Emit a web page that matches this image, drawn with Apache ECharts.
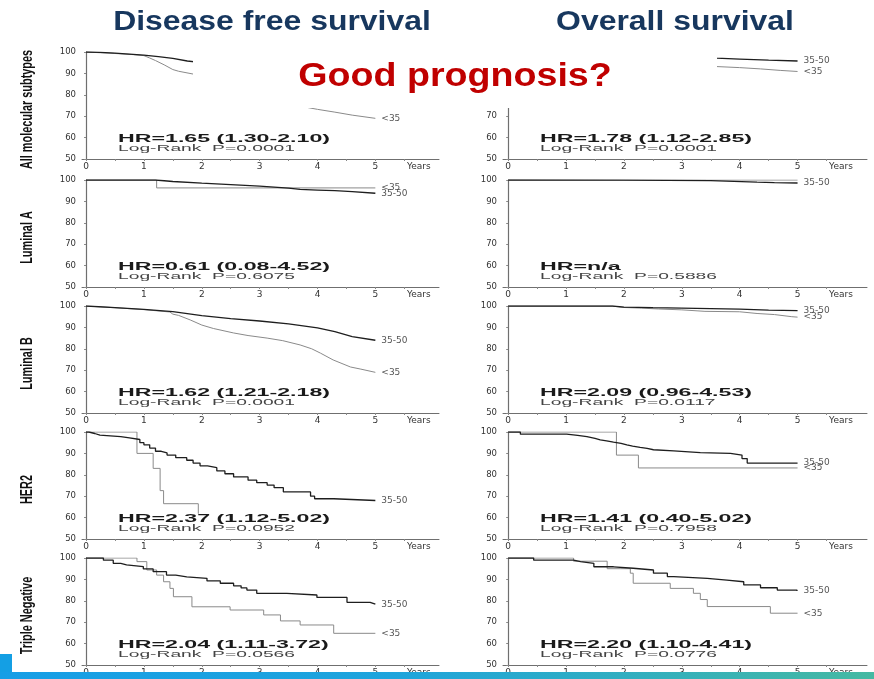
<!DOCTYPE html>
<html>
<head>
<meta charset="utf-8">
<script src="https://cdn.jsdelivr.net/npm/echarts@6/dist/echarts.min.js"></script>
<style>
  html, body { margin: 0; padding: 0; background: #fff; }
  #main { width: 874px; height: 679px; }
</style>
</head>
<body>
<div id="main"></div>
<script>
// ---------- labels ----------
const columnTitles = ['Disease free survival', 'Overall survival'];
const rowNames = ['All molecular subtypes', 'Luminal A', 'Luminal B', 'HER2', 'Triple Negative'];
const ageGroups = ['35-50', '<35'];
const yearTicks = [0, 1, 2, 3, 4, 5];
const halfYearTicks = [0, 0.5, 1, 1.5, 2, 2.5, 3, 3.5, 4, 4.5, 5, 5.5];
const headline = 'Good prognosis?';

const hrDfs = ['HR=1.65 (1.30-2.10)', 'HR=0.61 (0.08-4.52)', 'HR=1.62 (1.21-2.18)', 'HR=2.37 (1.12-5.02)', 'HR=2.04 (1.11-3.72)'];
const pDfs  = ['Log-Rank  P=0.0001', 'Log-Rank  P=0.6075', 'Log-Rank  P=0.0001', 'Log-Rank  P=0.0952', 'Log-Rank  P=0.0566'];
const hrOs  = ['HR=1.78 (1.12-2.85)', 'HR=n/a', 'HR=2.09 (0.96-4.53)', 'HR=1.41 (0.40-5.02)', 'HR=2.20 (1.10-4.41)'];
const pOs   = ['Log-Rank  P=0.0001', 'Log-Rank  P=0.5886', 'Log-Rank  P=0.0117', 'Log-Rank  P=0.7958', 'Log-Rank  P=0.0776'];

// ---------- survival curves: [years, % event-free] ----------
// All molecular subtypes
const dfsAll_35to50 = [[0,100],[0.25,99.8],[0.5,99.5],[0.75,99],[1,98.5],[1.25,97.8],[1.5,97],[1.75,95.8],[2,95],[2.5,93.5],[3,92],[3.5,90.8],[4,89.5],[4.5,88],[5,86.5]];
const dfsAll_under35 = [[0,100],[0.5,99.3],[0.8,98.8],[1,98.3],[1.1,97.2],[1.2,96],[1.35,94],[1.5,91.8],[1.6,91],[1.85,89.7],[2,88.5],[2.5,85],[3,81],[3.4,77.5],[3.8,74.2],[4,73.2],[4.3,71.9],[4.6,70.5],[5,69]];
const osAll_35to50 = [[0,100],[0.5,99.9],[1,99.6],[1.5,99.2],[2,98.8],[2.5,98.3],[3,97.8],[3.6,97.1],[4,96.7],[4.5,96.2],[5,95.8]];
const osAll_under35 = [[0,100],[0.5,99.6],[1,99],[1.5,98],[2,97],[2.5,95.9],[3,94.8],[3.6,93.2],[4,92.7],[4.36,92.1],[4.7,91.4],[5,90.9]];
// Luminal A
const dfsLumA_35to50 = [[0,100],[1.2,100],[1.5,99.3],[2,98.5],[2.5,97.8],[3,97.1],[3.5,96.2],[3.7,95.6],[4,95.3],[4.3,95],[4.6,94.6],[5,93.8]];
const dfsLumA_under35 = [[0,100],[1.22,96.3],[5,96.3]];
const osLumA_35to50 = [[0,100],[2,99.9],[3.5,99.7],[3.9,99.4],[4.3,99],[4.6,98.8],[5,98.6]];
const osLumA_under35 = [[0,100],[5,100]];
// Luminal B
const dfsLumB_35to50 = [[0,100],[0.5,99.2],[1,98.4],[1.5,97.4],[2,95.5],[2.5,94.1],[3,93],[3.5,91.6],[4,89.8],[4.3,88],[4.6,85.7],[5,84]];
const dfsLumB_under35 = [[0,100],[0.5,99.2],[1,98.3],[1.45,97.2],[1.5,96.2],[1.6,95.6],[1.8,93.5],[2,91.1],[2.2,89.5],[2.55,87.4],[2.8,86.2],[3.13,85],[3.4,83.8],[3.7,81.8],[3.9,80],[4.05,78],[4.27,74.8],[4.57,71.5],[4.75,70.5],[5,69]];
const osLumB_35to50 = [[0,100],[1.8,100],[2,99.5],[2.5,99.2],[3,99],[3.5,98.8],[4,98.5],[4.5,98.1],[5,97.8]];
const osLumB_under35 = [[0,100],[1.8,100],[2,99.3],[2.3,99],[2.6,98.6],[3,98.2],[3.4,97.5],[4,97.3],[4.3,96.5],[4.6,96],[4.9,95],[5,94.8]];
// HER2
const dfsHer2_35to50 = [[0,100],[0.05,99.3],[0.15,98.5],[0.24,97.8],[0.6,97.3],[0.75,96.5],[0.93,95],[1,94],[1.1,92.5],[1.2,91],[1.3,90.2],[1.4,89.2],[1.55,88],[1.74,86.8],[1.85,85.5],[1.97,84.2],[2.1,83.3],[2.26,81.8],[2.4,80.5],[2.55,79],[2.8,77.5],[2.95,76.3],[3.13,75.2],[3.25,74],[3.41,72],[3.88,70],[3.95,68.8],[4.28,68],[5,68]];
const dfsHer2_under35 = [[0,100],[0.88,90],[1.16,83],[1.28,72.6],[1.34,66.5],[1.94,61.8]];
const osHer2_35to50 = [[0,100],[0.21,99],[1.01,98.4],[1.2,97.8],[1.36,97],[1.5,96.3],[1.59,95.9],[1.7,95.3],[1.82,94.7],[1.95,94],[2.05,93.4],[2.15,92.8],[2.28,92.3],[2.4,91.7],[2.51,91.2],[2.86,90.4],[3.32,90],[3.84,89.2],[4.04,87.6],[4.13,85.5],[5,85.5]];
const osHer2_under35 = [[0,100],[1.87,89.2],[2.25,83.2],[5,83.2]];
// Triple negative
const dfsTn_35to50 = [[0,100],[0.3,99],[0.47,97.5],[0.6,96.8],[0.7,96],[0.99,94.9],[1.16,93.6],[1.39,92],[1.55,91.2],[1.74,90.5],[2.09,89.3],[2.32,88.2],[2.55,87],[2.68,86],[2.78,85],[2.95,83.5],[3.47,82.7],[3.99,81.6],[4.51,79.3],[4.91,78.4],[5,78.4]];
const dfsTn_under35 = [[0,100],[0.88,98.3],[1.05,94.4],[1.22,92],[1.34,88.9],[1.45,85.8],[1.51,81.9],[1.83,77.2],[2.49,75.7],[3.07,73.4],[3.36,70.6],[3.7,68.7],[4.28,64.8],[5,64.8]];
const osTn_35to50 = [[0,100],[0.44,99],[1.13,98.3],[1.25,97.5],[1.48,95.9],[1.82,95.2],[2.16,94.4],[2.51,92.9],[2.75,91.3],[2.86,90.5],[3.44,89.7],[3.78,88.9],[4.07,87.4],[4.36,86.1],[4.65,85],[4.99,84.6],[5,84.6]];
const osTn_under35 = [[0,100],[1.13,98.5],[1.71,95],[2.11,92.9],[2.16,88.2],[2.8,85.8],[3.2,83.5],[3.32,80.6],[3.44,77.3],[4.53,74.2],[5,74.2]];

// panel curves per row: [DFS, OS], each [35-50, <35]
const panels = [
  [[dfsAll_35to50, dfsAll_under35], [osAll_35to50, osAll_under35]],
  [[dfsLumA_35to50, dfsLumA_under35], [osLumA_35to50, osLumA_under35]],
  [[dfsLumB_35to50, dfsLumB_under35], [osLumB_35to50, osLumB_under35]],
  [[dfsHer2_35to50, dfsHer2_under35], [osHer2_35to50, osHer2_under35]],
  [[dfsTn_35to50, dfsTn_under35], [osTn_35to50, osTn_under35]]
];
// which <35 curves carry an end label
const youngLabelShown = [[true, true], [true, false], [true, true], [false, true], [true, true]];
// large cohorts drop in many tiny steps, drawn as a continuous trace; small cohorts as stairs
const stairs = [
  [[false, false], [false, false]],
  [[false, true], [false, false]],
  [[false, false], [false, false]],
  [[true, true], [true, true]],
  [[true, true], [true, true]]
];

// ---------- layout ----------
const rowTops = [52, 180, 306, 432, 558];
const plotH = 107;
const cols = [
  { left: 82, width: 357, min: -0.07, max: 6.1, textX: 118 },
  { left: 503, width: 364, min: -0.09, max: 6.2, textX: 540 }
];
const axisColor = '#6f6f6f';
const tickFont = '"DejaVu Sans", sans-serif';

const measureCtx = document.createElement('canvas').getContext('2d');
function textWidth(text, font) { measureCtx.font = font; return measureCtx.measureText(text).width; }

const hrFont = 'bold 10px "Liberation Sans", Arial, sans-serif';
const pFont = '8.5px "Liberation Sans", Arial, sans-serif';
const hrScale = 212 / textWidth(hrDfs[0], hrFont);
const pScale = 177 / textWidth(pDfs[0], pFont);

const grids = [], xAxes = [], yAxes = [], series = [], graphics = [];

rowTops.forEach((top, r) => {
  cols.forEach((c, ci) => {
    const idx = grids.length;
    grids.push({ left: c.left, top: top, width: c.width, height: plotH, containLabel: false });
    xAxes.push({
      type: 'value', gridIndex: idx, min: c.min, max: c.max,
      axisLine: { show: true, onZero: false, lineStyle: { color: axisColor, width: 1 } },
      axisTick: { show: true, customValues: halfYearTicks, length: 2, lineStyle: { color: '#888' } },
      axisLabel: {
        customValues: yearTicks.concat([5.75]),
        formatter: v => (v > 5.5 ? 'Years' : String(v)),
        fontSize: 9, color: '#333', margin: 3, fontFamily: tickFont
      },
      splitLine: { show: false }
    });
    yAxes.push({
      type: 'value', gridIndex: idx, min: 50, max: 100, interval: 10,
      axisLine: { show: true, lineStyle: { color: axisColor, width: 1.2 } },
      axisTick: { show: true, length: 2, lineStyle: { color: '#888' } },
      axisLabel: { fontSize: 8.5, color: '#333', margin: 6, fontFamily: tickFont },
      splitLine: { show: false }
    });
    const [older, younger] = panels[r][ci];
    const [olderStairs, youngerStairs] = stairs[r][ci];
    series.push({
      name: ageGroups[1], type: 'line', step: youngerStairs ? 'end' : false, xAxisIndex: idx, yAxisIndex: idx,
      data: younger, symbol: 'none', silent: true, animation: false,
      lineStyle: { color: '#8a8a8a', width: 1 },
      endLabel: { show: youngLabelShown[r][ci], formatter: '{a}', color: '#555', fontSize: 9, fontFamily: tickFont, distance: 6 }
    });
    series.push({
      name: ageGroups[0], type: 'line', step: olderStairs ? 'end' : false, xAxisIndex: idx, yAxisIndex: idx,
      data: older, symbol: 'none', silent: true, animation: false,
      lineStyle: { color: '#1e1e1e', width: 1.3 },
      endLabel: { show: true, formatter: '{a}', color: '#555', fontSize: 9, fontFamily: tickFont, distance: 6 }
    });
    // hazard ratio and log-rank annotation
    const hr = ci === 0 ? hrDfs[r] : hrOs[r];
    const p = ci === 0 ? pDfs[r] : pOs[r];
    graphics.push({
      type: 'text', x: c.textX, y: top + 87, scaleX: hrScale, z: 50,
      style: { text: hr, font: hrFont, fill: '#1a1a1a', textVerticalAlign: 'middle' }
    });
    graphics.push({
      type: 'text', x: c.textX, y: top + 97, scaleX: pScale, z: 50,
      style: { text: p, font: pFont, fill: '#444', textVerticalAlign: 'middle' }
    });
  });
});

// row captions (condensed, vertical)
const rowFont = 'bold 16px "Liberation Sans", Arial, sans-serif';
rowNames.forEach((name, r) => {
  graphics.push({
    type: 'text', x: 28, y: rowTops[r] + plotH / 2 + 4, rotation: Math.PI / 2, scaleX: 0.68, z: 50,
    style: { text: name, font: rowFont, fill: '#111', textAlign: 'center', textVerticalAlign: 'middle' }
  });
});

// column titles
const titleFont = 'bold 28px "Liberation Sans", Arial, sans-serif';
[272, 675].forEach((cx, i) => {
  graphics.push({
    type: 'text', x: cx, y: 22, scaleX: 1.14, z: 60,
    style: { text: columnTitles[i], font: titleFont, fill: '#17375e', textAlign: 'center', textVerticalAlign: 'middle' }
  });
});

// white callout box with the question
graphics.push({ type: 'rect', shape: { x: 193, y: 42, width: 524, height: 66 }, style: { fill: '#ffffff' }, z: 100 });
graphics.push({
  type: 'text', x: 455, y: 77, scaleX: 1.14, z: 101,
  style: { text: headline, font: 'bold 33px "Liberation Sans", Arial, sans-serif', fill: '#c00000', textAlign: 'center', textVerticalAlign: 'middle' }
});

// slide footer band
graphics.push({ type: 'rect', shape: { x: 0, y: 654, width: 12, height: 25 }, style: { fill: '#149fe4' }, z: 100 });
graphics.push({
  type: 'rect', shape: { x: 0, y: 672, width: 874, height: 7 }, z: 100,
  style: { fill: new echarts.graphic.LinearGradient(0, 0, 1, 0, [
    { offset: 0, color: '#169ee6' }, { offset: 0.45, color: '#1ea4dc' }, { offset: 1, color: '#45b9a2' }
  ]) }
});

const chart = echarts.init(document.getElementById('main'), null, { renderer: 'canvas' });
chart.setOption({
  backgroundColor: '#ffffff',
  animation: false,
  grid: grids,
  xAxis: xAxes,
  yAxis: yAxes,
  series: series,
  graphic: { elements: graphics }
});
</script>
</body>
</html>
